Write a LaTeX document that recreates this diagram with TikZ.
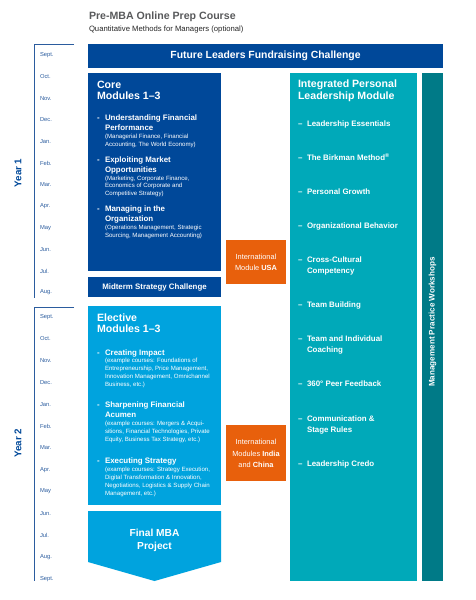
\documentclass[tikz,border=0pt]{standalone}
\usepackage{fontspec}
\setmainfont{Liberation Sans}
\definecolor{dblue}{HTML}{004899}
\definecolor{lblue}{HTML}{00A3DE}
\definecolor{teal1}{HTML}{00A9B9}
\definecolor{teal2}{HTML}{007A87}
\definecolor{orng}{HTML}{E8600C}
\definecolor{mtxt}{HTML}{2B5C9E}
\definecolor{ttl}{HTML}{58595B}
\begin{document}
\begin{tikzpicture}[x=1pt,y=-1pt,
  every node/.style={inner sep=0pt,outer sep=0pt},
  month/.style={anchor=west,text=mtxt,font=\fontsize{5.8}{6}\selectfont},
  bracket/.style={draw=mtxt,line width=0.9pt},
  yearlbl/.style={rotate=90,text=dblue,font=\fontsize{9.8}{10}\bfseries\selectfont},
  boxhead/.style={anchor=west,text=white,font=\fontsize{10.6}{11}\bfseries\selectfont,text height=1.5ex,text depth=.3ex},
  itemh/.style={anchor=west,text=white,font=\fontsize{7.9}{8}\bfseries\selectfont,text height=1.5ex,text depth=.3ex},
  itemd/.style={anchor=west,text=white,font=\fontsize{7.9}{8}\bfseries\selectfont,text height=1.5ex,text depth=.3ex},
  subt/.style={anchor=west,text=white,font=\fontsize{6.1}{6}\selectfont,text height=1.5ex,text depth=.3ex},
  orgt/.style={text=white,font=\fontsize{7.4}{11.5}\selectfont,align=center}
]
\useasboundingbox (0,0) rectangle (476,600);
% title
\node[anchor=west,text=ttl,font=\fontsize{10.6}{11}\bfseries\selectfont] (title) at (89,17) {Pre-MBA Online Prep Course};
\node[anchor=west,text=black!85,font=\fontsize{7.7}{8}\selectfont] (subtitle) at (89,30) {Quantitative Methods for Managers (optional)};
% brackets
\coordinate (b1a) at (74,44); \coordinate (b1b) at (34,44); \coordinate (b1c) at (34,298);
\draw[bracket] (b1a) -- (b1b) -- (b1c);
\coordinate (b2a) at (74,307); \coordinate (b2b) at (34,307); \coordinate (b2c) at (34,581);
\draw[bracket] (b2a) -- (b2b) -- (b2c);
\node[yearlbl] (year1) at (18,173) {Year 1};
\node[yearlbl] (year2) at (18,443) {Year 2};
% months
\foreach \m [count=\i] in {Sept.,Oct.,Nov.,Dec.,Jan.,Feb.,Mar.,Apr.,May,Jun.,Jul.,Aug.}
  \node[month] (ma\i) at (40,{55+(\i-1)*21.6}) {\m};
\foreach \m [count=\i] in {Sept.,Oct.,Nov.,Dec.,Jan.,Feb.,Mar.,Apr.,May,Jun.,Jul.,Aug.,Sept.}
  \node[month] (mb\i) at (40,{317+(\i-1)*21.8}) {\m};
% banner
\fill[dblue] (88,44) rectangle (443,68);
\node[text=white,font=\fontsize{10.4}{10}\bfseries\selectfont] (banner) at (265.5,56) {Future Leaders Fundraising Challenge};
% core
\fill[dblue] (88,73) rectangle (221,271);
\node[boxhead] (core1) at (97,85) {Core};
\node[boxhead] (core2) at (97,96.5) {Modules 1–3};
\node[itemd] (cd1) at (97,117) {-};
\node[itemh] (c1a) at (105,117) {Understanding Financial};
\node[itemh] (c1b) at (105,127) {Performance};
\node[subt] (c1c) at (105,135.5) {(Managerial Finance, Financial};
\node[subt] (c1d) at (105,143) {Accounting, The World Economy)};
\node[itemd] (cd2) at (97,159) {-};
\node[itemh] (c2a) at (105,159) {Exploiting Market};
\node[itemh] (c2b) at (105,169) {Opportunities};
\node[subt] (c2c) at (105,177) {(Marketing, Corporate Finance,};
\node[subt] (c2d) at (105,184.5) {Economics of Corporate and};
\node[subt] (c2e) at (105,192) {Competitive Strategy)};
\node[itemd] (cd3) at (97,208) {-};
\node[itemh] (c3a) at (105,208) {Managing in the};
\node[itemh] (c3b) at (105,218) {Organization};
\node[subt] (c3c) at (105,226.5) {(Operations Management, Strategic};
\node[subt] (c3d) at (105,234) {Sourcing, Management Accounting)};
% midterm
\fill[dblue] (88,277) rectangle (221,297);
\node[text=white,font=\fontsize{7.9}{8}\bfseries\selectfont] (midterm) at (154.5,287) {Midterm Strategy Challenge};
% elective
\fill[lblue] (88,306) rectangle (221,505);
\node[boxhead] (el1) at (97,318) {Elective};
\node[boxhead] (el2) at (97,329.5) {Modules 1–3};
\node[itemd] (ed1) at (97,352) {-};
\node[itemh] (e1a) at (105,352) {Creating Impact};
\node[subt] (e1b) at (105,359.5) {(example courses: Foundations of};
\node[subt] (e1c) at (105,367.3) {Entrepreneurship, Price Management,};
\node[subt] (e1d) at (105,375.1) {Innovation Management, Omnichannel};
\node[subt] (e1e) at (105,383) {Business, etc.)};
\node[itemd] (ed2) at (97,404) {-};
\node[itemh] (e2a) at (105,404) {Sharpening Financial};
\node[itemh] (e2b) at (105,414) {Acumen};
\node[subt] (e2c) at (105,422) {(example courses: Mergers \& Acqui-};
\node[subt] (e2d) at (105,430) {sitions, Financial Technologies, Private};
\node[subt] (e2e) at (105,438) {Equity, Business Tax Strategy, etc.)};
\node[itemd] (ed3) at (97,460) {-};
\node[itemh] (e3a) at (105,460) {Executing Strategy};
\node[subt] (e3b) at (105,468) {(example courses: Strategy Execution,};
\node[subt] (e3c) at (105,476) {Digital Transformation \& Innovation,};
\node[subt] (e3d) at (105,484) {Negotiations, Logistics \& Supply Chain};
\node[subt] (e3e) at (105,492) {Management, etc.)};
% final project
\fill[lblue] (88,511) -- (221,511) -- (221,562) -- (154.5,581) -- (88,562) -- cycle;
\node[text=white,font=\fontsize{10.2}{13}\bfseries\selectfont,align=center] (final) at (154.5,540.5) {Final MBA\\Project};
% orange boxes
\fill[orng] (226,240) rectangle (286,284);
\node[orgt] (usa) at (256,262.5) {International\\Module \textbf{USA}};
\fill[orng] (226,425) rectangle (286,481);
\node[orgt] (asia) at (256,453.5) {International\\Modules \textbf{India}\\and \textbf{China}};
% integrated
\fill[teal1] (290,73) rectangle (417,581);
\node[boxhead] (in1) at (298,84.5) {Integrated Personal};
\node[boxhead] (in2) at (298,96) {Leadership Module};
\foreach \t/\y [count=\i] in {Leadership Essentials/123,The Birkman Method\textsuperscript{\textregistered}/157,Personal Growth/191,Organizational Behavior/225,Cross-Cultural/259,Team Building/304,Team and Individual/338,360° Peer Feedback/383,Communication \&/418,Leadership Credo/463}
{
  \node[itemd] (idash\i) at (298,\y) {–};
  \node[itemh] (it\i) at (307,\y) {\t};
}
\node[itemh] (it5b) at (307,270.5) {Competency};
\node[itemh] (it7b) at (307,349.5) {Coaching};
\node[itemh] (it9b) at (307,429.5) {Stage Rules};
% management bar
\fill[teal2] (422,73) rectangle (443,581);
\node[rotate=90,text=white,font=\fontsize{8.1}{8}\bfseries\selectfont] (mgmt) at (432.5,322) {Management Practice Workshops};
\end{tikzpicture}
\end{document}
